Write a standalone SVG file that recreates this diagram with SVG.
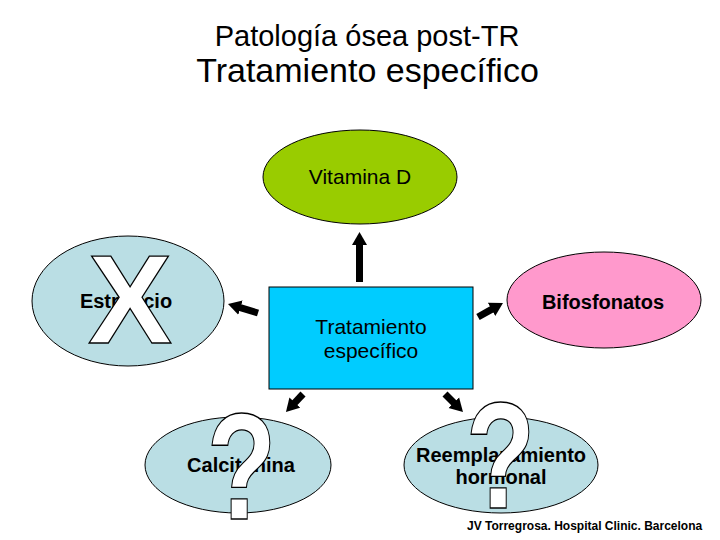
<svg xmlns="http://www.w3.org/2000/svg" width="720" height="540" viewBox="0 0 720 540">
<style>
text{font-family:"Liberation Sans",Arial,sans-serif;fill:#000}
.t{font-size:20px;font-weight:bold;text-anchor:middle}
.r{font-size:21px;text-anchor:middle}
.blue{fill:#BADEE4;stroke:#000;stroke-width:1}
.big{font-weight:bold;fill:#fff;stroke:#000;stroke-width:1.3;text-anchor:middle}
.conn{stroke:#000;stroke-width:7;fill:none;marker-end:url(#ah)}
</style>
<defs>
<marker id="ah" markerUnits="userSpaceOnUse" viewBox="0 -8 14 16" markerWidth="14" markerHeight="16" refX="1" refY="0" orient="auto">
<path d="M0,-7.5 L13,0 L0,7.5 Z" fill="#000"/>
</marker>
</defs>
<rect width="720" height="540" fill="#fff"/>
<g id="title">
<text x="367" y="46" style="font-size:29px;text-anchor:middle">Patología ósea post-TR</text>
<text x="367.5" y="82" style="font-size:34px;text-anchor:middle">Tratamiento específico</text>
</g>
<g id="vitd">
<ellipse cx="360" cy="177" rx="97" ry="47" fill="#99CC00" stroke="#000" stroke-width="1"/>
<text class="r" x="360" y="184">Vitamina D</text>
</g>
<g id="estroncio">
<ellipse class="blue" cx="128" cy="301" rx="96" ry="65"/>
<text class="t" x="126" y="308">Estroncio</text>
<text class="big" x="130" y="343" style="font-size:126px">X</text>
</g>
<g id="bifos">
<ellipse cx="604" cy="300" rx="97" ry="48" fill="#FF99CC" stroke="#000" stroke-width="1"/>
<text class="t" x="603" y="309">Bifosfonatos</text>
</g>
<g id="center">
<rect x="269" y="287" width="204" height="102" fill="#00CCFF" stroke="#000" stroke-width="1"/>
<text class="r" x="371" y="334">Tratamiento</text>
<text class="r" x="371" y="358">específico</text>
</g>
<g id="calcitonina">
<ellipse class="blue" cx="238" cy="465" rx="93" ry="48"/>
<text class="t" x="241" y="472">Calcitonina</text>
<text class="big" transform="translate(241.5,519) scale(0.75,1)" x="0" y="0" style="font-size:152px">?</text>
</g>
<g id="reemplazamiento">
<ellipse class="blue" cx="501" cy="465" rx="97" ry="48"/>
<text class="t" x="501" y="462">Reemplazamiento</text>
<text class="t" x="501" y="484">hormonal</text>
<text class="big" transform="translate(500.5,508) scale(0.75,1)" x="0" y="0" style="font-size:152px">?</text>
</g>
<g id="connectors">
<line class="conn" x1="359.5" y1="282" x2="359.5" y2="244"/>
<line class="conn" x1="258" y1="313" x2="239.5" y2="307.4"/>
<line class="conn" x1="478" y1="317" x2="492.5" y2="308.9"/>
<line class="conn" x1="303" y1="394" x2="294.2" y2="403.3"/>
<line class="conn" x1="445" y1="394" x2="454.5" y2="403.5"/>
</g>
<text x="467" y="530" style="font-size:12px;font-weight:bold">JV Torregrosa. Hospital Clinic. Barcelona</text>
</svg>
